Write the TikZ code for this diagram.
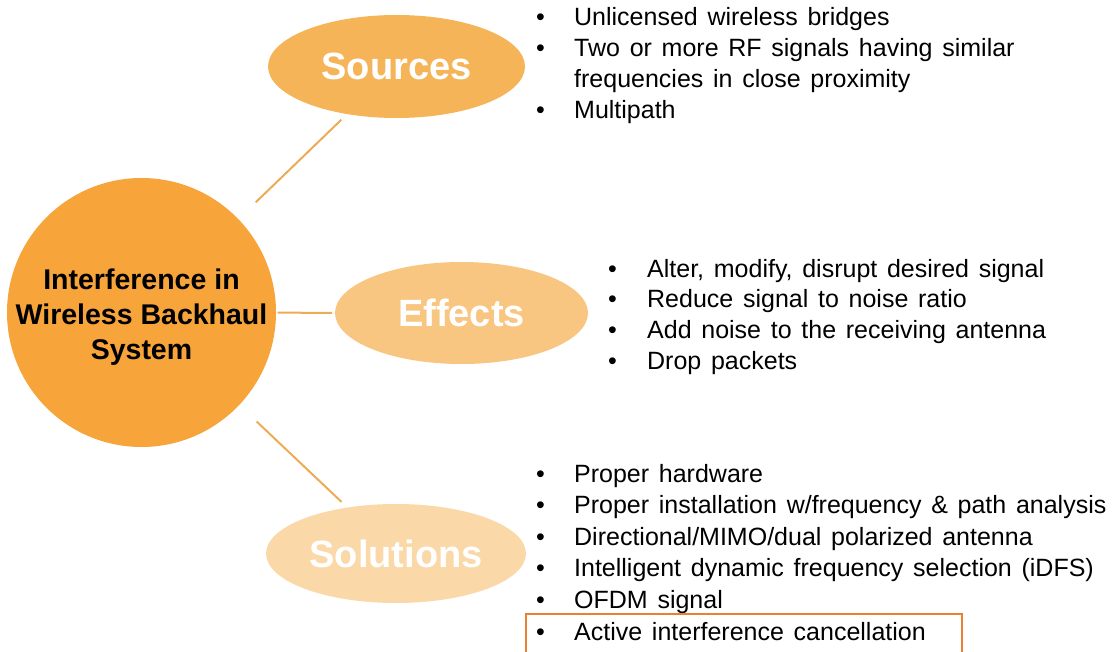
\documentclass[tikz,border=0pt]{standalone}
\usepackage{fontspec}
\setmainfont{Liberation Sans}
\newfontfamily\listfont[WordSpace=1.4]{Liberation Sans}
\usetikzlibrary{shapes.geometric, positioning}

\definecolor{hubfill}{RGB}{247,164,58}
\definecolor{srcfill}{RGB}{246,180,88}
\definecolor{efffill}{RGB}{248,198,128}
\definecolor{solfill}{RGB}{250,216,168}
\definecolor{linkcol}{RGB}{238,170,84}
\definecolor{markcol}{RGB}{232,130,50}

\begin{document}
\begin{tikzpicture}[
    x=1pt, y=-1pt,
    topic/.style={ellipse, inner sep=0pt, text=white, font=\fontsize{38}{44}\selectfont\bfseries},
    bullets/.style={anchor=base west, inner sep=0pt, font=\listfont\fontsize{25}{#1}\selectfont},
    bullets/.default=31,
    link/.style={draw=linkcol, line width=2pt},
    markbox/.style={draw=markcol, line width=1.8pt}
]
\useasboundingbox (0,0) rectangle (1115,652);

% Nodes
\node[circle, fill=hubfill, minimum size=269pt, inner sep=0pt] (hub) at (141.5,312.5) {};
\node[align=center, inner sep=0pt, yshift=-5pt,
      font=\fontsize{28.5}{35}\selectfont\bfseries] (hubtext) at (hub)
      {Interference in\\Wireless Backhaul\\System};
\node[topic, fill=srcfill, minimum width=257pt, minimum height=103pt] (src) at (396.5,66.5) {Sources};
\node[topic, fill=efffill, minimum width=253pt, minimum height=102pt] (eff) at (461.5,313) {Effects};
\node[topic, fill=solfill, minimum width=260pt, minimum height=99pt] (sol) at (396,553.5) {Solutions};

% Bullet lists
\node[bullets] (srclist) at (536,26) {\begin{tabular}[t]{@{}p{38pt}@{}l@{}}
• & Unlicensed wireless bridges\\
• & Two or more RF signals having similar\\
  & frequencies in close proximity\\
• & Multipath
\end{tabular}};
\node[bullets=30.7] (efflist) at (608,277) {\begin{tabular}[t]{@{}p{39pt}@{}l@{}}
• & Alter, modify, disrupt desired signal\\
• & Reduce signal to noise ratio\\
• & Add noise to the receiving antenna\\
• & Drop packets
\end{tabular}};
\node[bullets=31.6] (sollist) at (536,482) {\begin{tabular}[t]{@{}p{38pt}@{}l@{}}
• & Proper hardware\\
• & Proper installation w/frequency \& path analysis\\
• & Directional/MIMO/dual polarized antenna\\
• & Intelligent dynamic frequency selection (iDFS)\\
• & OFDM signal\\
• & Active interference cancellation
\end{tabular}};

% Highlight on the last solution
\draw[markbox] (526,614) rectangle (962,656);

% Lines from the hub
\draw[link, shorten <=24pt, shorten >=8pt] (hub) -- (src);
\draw[link, shorten <=1.5pt, shorten >=3pt] (hub) -- (eff);
\draw[link, shorten <=24pt, shorten >=8pt] (hub) -- (sol);

\end{tikzpicture}
\end{document}
